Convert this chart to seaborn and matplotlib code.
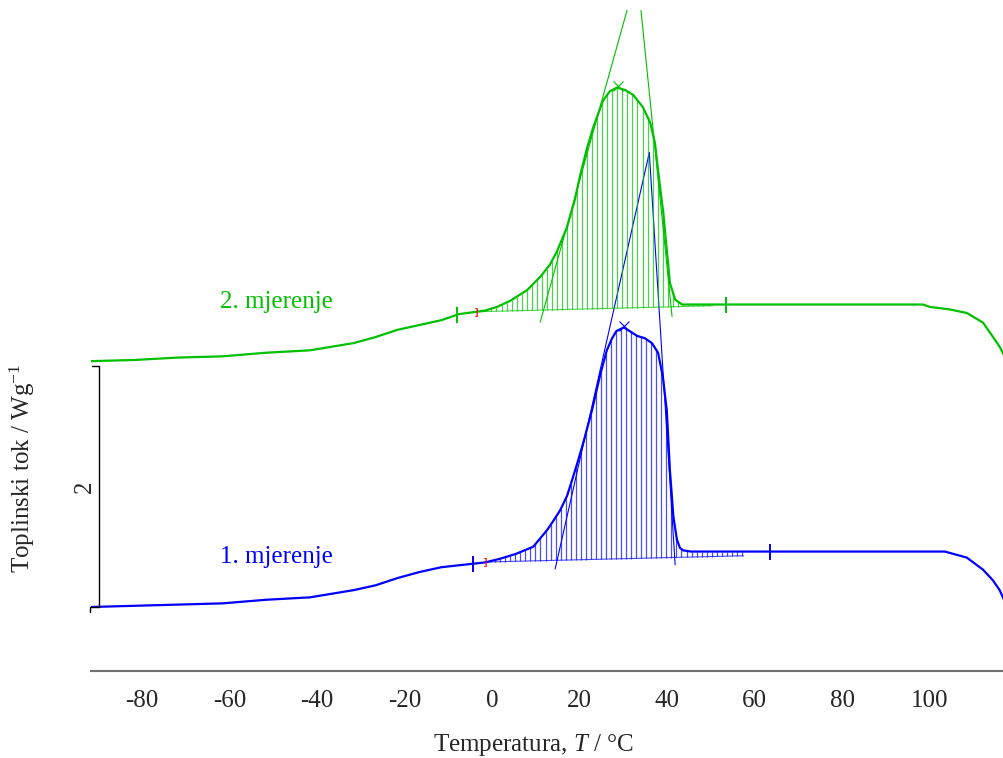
import numpy as np
import pandas as pd
import matplotlib
matplotlib.use('Agg')
import matplotlib.pyplot as plt
from matplotlib.transforms import ScaledTranslation
import seaborn as sns

# DSC curves, heat flow in W/g (shifted so the curves can be stacked)
t_run1 = [-90, -80, -70, -60, -50, -40, -30, -25, -20, -15, -10, -5, 0, 3.4, 7, 11,
          12.6, 14.2, 15.5, 17.1, 18.7, 20.1, 21.2, 22.4, 24.4, 26.3, 27.8, 29, 30,
          31.7, 33, 34.7, 36.5, 38.1, 39.5, 40.6, 41.5, 42.2, 43, 43.8, 44.5, 45.2, 47,
          60, 80, 100, 105, 110, 113.7, 116, 117.5, 118.5]
q_run1 = [0.0, 0.01, 0.02, 0.03, 0.06, 0.08, 0.14, 0.18, 0.24, 0.29, 0.33, 0.35, 0.37,
          0.40, 0.44, 0.50, 0.57, 0.64, 0.71, 0.80, 0.92, 1.08, 1.21, 1.36, 1.63, 1.93,
          2.13, 2.23, 2.29, 2.32, 2.29, 2.25, 2.23, 2.19, 2.11, 1.91, 1.63, 1.14, 0.75,
          0.56, 0.49, 0.47, 0.46, 0.46, 0.46, 0.46, 0.46, 0.41, 0.31, 0.22, 0.14, 0.06]

t_run2 = [-90, -80, -70, -60, -50, -40, -30, -25, -20, -15, -10, -6, 0, 2.7, 5.7, 9.6,
          12.6, 14.8, 16.4, 18.7, 20.5, 21.7, 23.3, 24.7, 26.9, 28.5, 30.1, 32, 33.8,
          36, 37.7, 38.8, 39.5, 40.7, 41.5, 42.2, 43.4, 45, 50, 100, 101.6, 106, 110,
          113.7, 116, 117.5, 118.5]
q_run2 = [2.04, 2.05, 2.07, 2.08, 2.11, 2.13, 2.19, 2.24, 2.30, 2.34, 2.38, 2.43, 2.46,
          2.49, 2.54, 2.63, 2.74, 2.84, 2.95, 3.15, 3.38, 3.58, 3.81, 3.98, 4.20, 4.28,
          4.31, 4.29, 4.25, 4.15, 4.02, 3.85, 3.62, 3.27, 2.96, 2.69, 2.55, 2.51, 2.51,
          2.51, 2.49, 2.47, 2.44, 2.36, 2.24, 2.16, 2.09]

# integration baselines (start/end) and limits
base_t_run1 = [0, 59]
base_q_run1 = [0.373, 0.425]
base_t_run2 = [-2, 52]
base_q_run2 = [2.45, 2.50]
limits_run1 = [-2.7, 65]
limits_run2 = [-6.4, 55]
peak_run1 = (31.7, 2.33)
peak_run2 = (30.4, 4.32)

# onset / endset tangents
tan_run1 = [([16.0, 37.5], [0.315, 3.77]), ([37.5, 43.4], [3.77, 0.35])]
tan_run2 = [([12.6, 32.4], [2.365, 4.95]), ([35.6, 42.7], [4.95, 2.41])]

labels = ['1. mjerenje', '2. mjerenje']
colors = {'1. mjerenje': '#0000ff', '2. mjerenje': '#00c000'}
scale_bar = 2

df = pd.concat([
    pd.DataFrame({'T': t_run1, 'q': q_run1, 'run': labels[0]}),
    pd.DataFrame({'T': t_run2, 'q': q_run2, 'run': labels[1]}),
], ignore_index=True)

sns.set_style('white')
plt.rcParams['font.family'] = ['Liberation Serif', 'DejaVu Serif']
plt.rcParams['mathtext.fontset'] = 'custom'
plt.rcParams['mathtext.rm'] = 'Liberation Serif'
plt.rcParams['mathtext.it'] = 'Liberation Serif:italic'
plt.rcParams['axes.unicode_minus'] = False

fig = plt.figure(figsize=(10.04, 7.58), dpi=100)
ax = fig.add_axes([0.0906, 0.1148, 0.9094, 0.8852])

sns.lineplot(data=df, x='T', y='q', hue='run', palette=colors, estimator=None,
             sort=False, linewidth=1.6, legend=False, ax=ax)

runs = [
    (t_run1, q_run1, base_t_run1, base_q_run1, limits_run1, peak_run1, tan_run1, labels[0]),
    (t_run2, q_run2, base_t_run2, base_q_run2, limits_run2, peak_run2, tan_run2, labels[1]),
]
for t, q, bt, bq, lim, peak, tans, lab in runs:
    c = colors[lab]
    # hatching of the peak area
    xs = np.arange(bt[0], bt[1], 1.15)
    ax.vlines(xs, np.interp(xs, bt, bq), np.interp(xs, t, q), color=c,
              linewidth=0.9, alpha=0.7)
    ax.plot(bt, bq, color=c, linewidth=0.8, alpha=0.7)
    for tx, ty in tans:
        ax.plot(tx, ty, color=c, linewidth=0.8)
    ax.plot(lim, np.interp(lim, t, q), linestyle='none', marker='|',
            markersize=11, markeredgewidth=1.4, color=c)
    ax.plot([bt[0]], [np.interp(bt[0], t, q)], linestyle='none', marker='$]$',
            markersize=6, markeredgewidth=0.3, color='red')
    ax.plot([peak[0]], [peak[1]], linestyle='none', marker='x', markersize=7,
            markeredgewidth=0.8, color=c)

ax.text(-47.7, 2.53, labels[1], color=colors[labels[1]], fontsize=18,
        ha='center', va='center')
ax.text(-47.7, 0.415, labels[0], color=colors[labels[0]], fontsize=18,
        ha='center', va='center')

# scale bar for heat flow
sx = -88.2
ax.plot([sx, sx], [0, scale_bar], color='black', linewidth=1.0, clip_on=False)
ax.plot([sx - 1.6, sx], [scale_bar, scale_bar], color='black', linewidth=1.0, clip_on=False)
ax.plot([sx - 2.0, sx - 2.0, sx], [-0.04, 0, 0], color='black', linewidth=1.0, clip_on=False)
ax.text(-91.5, scale_bar / 2, str(scale_bar), rotation=90, fontsize=18,
        ha='center', va='center')

ax.set_xlim(-90, 118.5)
ax.set_ylim(-0.531, 5.037)
ax.set_xticks(np.arange(-80, 101, 20))
ax.set_xticks(np.arange(-70, 111, 20), minor=True)
ax.tick_params(axis='x', which='major', direction='out', length=6, width=1,
               color='#707070', labelsize=18, pad=8)
ax.tick_params(axis='x', which='minor', direction='out', length=3, width=1,
               color='#707070')
# tick labels sit a little right of their ticks in the original
shift = ScaledTranslation(7 / 100, 0, fig.dpi_scale_trans)
for lbl in ax.get_xticklabels():
    lbl.set_transform(lbl.get_transform() + shift)
ax.set_yticks([])
for side in ['left', 'right', 'top']:
    ax.spines[side].set_visible(False)
ax.spines['bottom'].set_color('#707070')
ax.spines['bottom'].set_linewidth(1.5)
ax.set_xlabel('')
ax.set_ylabel('')

fig.text(533 / 1004, 1 - 745 / 758, 'Temperatura, $T$ / °C', fontsize=18,
         ha='center', va='center')
fig.text(22 / 1004, 1 - 468 / 758, 'Toplinski tok / Wg$^{\\mathregular{-1}}$',
         fontsize=18, rotation=90, ha='center', va='center')

fig.savefig('out.png', dpi=100)
